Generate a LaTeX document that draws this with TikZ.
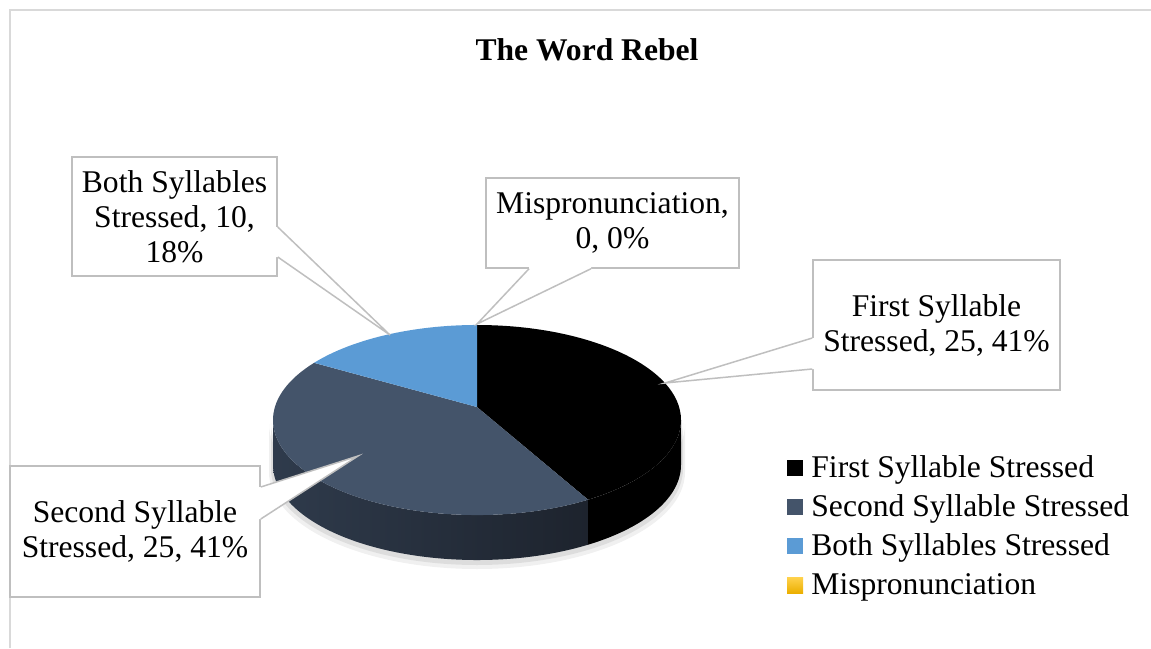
\documentclass[tikz,border=0pt]{standalone}
\usepackage{fontspec}
\setmainfont{Liberation Serif}
\usetikzlibrary{calc}
\definecolor{firstc}{HTML}{000000}
\definecolor{secondc}{HTML}{44546A}
\definecolor{secondside}{HTML}{2F3B4C}
\definecolor{secondsidedark}{HTML}{1D232D}
\definecolor{bothc}{HTML}{5B9BD5}
\definecolor{mistop}{HTML}{FFD24D}
\definecolor{misbot}{HTML}{EBAF00}
\definecolor{framec}{HTML}{D9D9D9}
\definecolor{calloutc}{HTML}{BFBFBF}

\begin{document}
\begin{tikzpicture}[x=0.5pt,y=-0.5pt,
  every node/.style={font=\fontsize{15.8}{17.5}\selectfont},
  callout/.style={draw=calloutc,line width=0.75pt,fill=white,align=center,inner sep=0pt},
  pointer/.style={draw=calloutc,line width=0.75pt,line join=miter},
  swatch/.style={minimum size=8pt,inner sep=0pt}]
  \useasboundingbox (0,0) rectangle (1151,648);
  \draw[framec,line width=1pt] (10,648) -- (10,10) -- (1151,10);
  \draw (587,50) node[font=\fontsize{15.8}{17.5}\selectfont\bfseries] (title) {The Word Rebel};

  % pie shadow
  \fill[black,opacity=0.06] (269,424) arc[start angle=180,end angle=0,x radius=208,y radius=97]
    -- ++(0,48) arc[start angle=0,end angle=180,x radius=208,y radius=97] -- cycle;
  \fill[black,opacity=0.08] (271,423) arc[start angle=180,end angle=0,x radius=206,y radius=96]
    -- ++(0,46) arc[start angle=0,end angle=180,x radius=206,y radius=96] -- cycle;

  % pie sides
  \shade[left color=secondside,right color=secondsidedark]
    (273,420) arc[start angle=180,end angle=57,x radius=204,y radius=95]
    -- ++(0,45) arc[start angle=57,end angle=180,x radius=204,y radius=95] -- cycle;
  \fill[firstc] (588.1,499.7) arc[start angle=57,end angle=0,x radius=204,y radius=95]
    -- ++(0,45) arc[start angle=0,end angle=57,x radius=204,y radius=95] -- cycle;

  % pie top
  \coordinate (v) at (477,407);
  \fill[firstc] (v) -- (477,325) arc[start angle=270,end angle=417,x radius=204,y radius=95] -- cycle;
  \fill[secondc] (v) -- (588.1,499.7) arc[start angle=57,end angle=217,x radius=204,y radius=95] -- cycle;
  \fill[bothc] (v) -- (314.1,362.8) arc[start angle=217,end angle=270,x radius=204,y radius=95] -- cycle;

  % callouts
  \draw (174.5,216.5) node[callout,minimum width=102.5pt,minimum height=59.5pt] (both)
    {Both Syllables\\Stressed, 10,\\18\%};
  \draw (612.5,223) node[callout,minimum width=126.5pt,minimum height=45pt] (mis)
    {Mispronunciation,\\0, 0\%};
  \draw (936.5,325) node[callout,minimum width=123.5pt,minimum height=65pt] (first)
    {First Syllable\\Stressed, 25, 41\%};
  \draw (135,531.5) node[callout,minimum width=125pt,minimum height=65.5pt] (second)
    {Second Syllable\\Stressed, 25, 41\%};

  \coordinate (bothtip) at (390,335);
  \coordinate (mistip) at (477,324);
  \coordinate (firsttip) at (665,383);
  \coordinate (secondtip) at (358,456);

  \fill[white] ($(both.east)+(-4,10.5)$) -- ($(both.east)+(0,10.5)$) -- (bothtip)
    -- ($(both.east)+(0,40.5)$) -- ($(both.east)+(-4,40.5)$) -- cycle;
  \draw[pointer] ($(both.east)+(0,10.5)$) -- (bothtip) -- ($(both.east)+(0,40.5)$);

  \fill[white] ($(mis.south)+(-83.5,-4)$) -- ($(mis.south)+(-83.5,0)$) -- (mistip)
    -- ($(mis.south)+(-21.5,0)$) -- ($(mis.south)+(-21.5,-4)$) -- cycle;
  \draw[pointer] ($(mis.south)+(-83.5,0)$) -- (mistip) -- ($(mis.south)+(-21.5,0)$);

  \fill[white] ($(first.west)+(4,13)$) -- ($(first.west)+(0,13)$) -- (firsttip)
    -- ($(first.west)+(0,44)$) -- ($(first.west)+(4,44)$) -- cycle;
  \draw[pointer] ($(first.west)+(0,13)$) -- (firsttip) -- ($(first.west)+(0,44)$);

  \fill[white] ($(second.east)+(-4,-44.5)$) -- ($(second.east)+(0,-44.5)$) -- (secondtip)
    -- ($(second.east)+(0,-12.5)$) -- ($(second.east)+(-4,-12.5)$) -- cycle;
  \draw[pointer] ($(second.east)+(0,-44.5)$) -- (secondtip) -- ($(second.east)+(0,-12.5)$);

  % legend
  \draw (795,468) node[swatch,fill=firstc] (sw1) {};
  \draw (795,507) node[swatch,fill=secondc] (sw2) {};
  \draw (795,546) node[swatch,fill=bothc] (sw3) {};
  \draw (795,585) node[swatch,top color=mistop,bottom color=misbot] (sw4) {};
  \draw (811,477) node[anchor=base west,inner sep=0pt] (lg1) {First Syllable Stressed};
  \draw (811,516) node[anchor=base west,inner sep=0pt] (lg2) {Second Syllable Stressed};
  \draw (811,555) node[anchor=base west,inner sep=0pt] (lg3) {Both Syllables Stressed};
  \draw (811,594) node[anchor=base west,inner sep=0pt] (lg4) {Mispronunciation};
\end{tikzpicture}
\end{document}
